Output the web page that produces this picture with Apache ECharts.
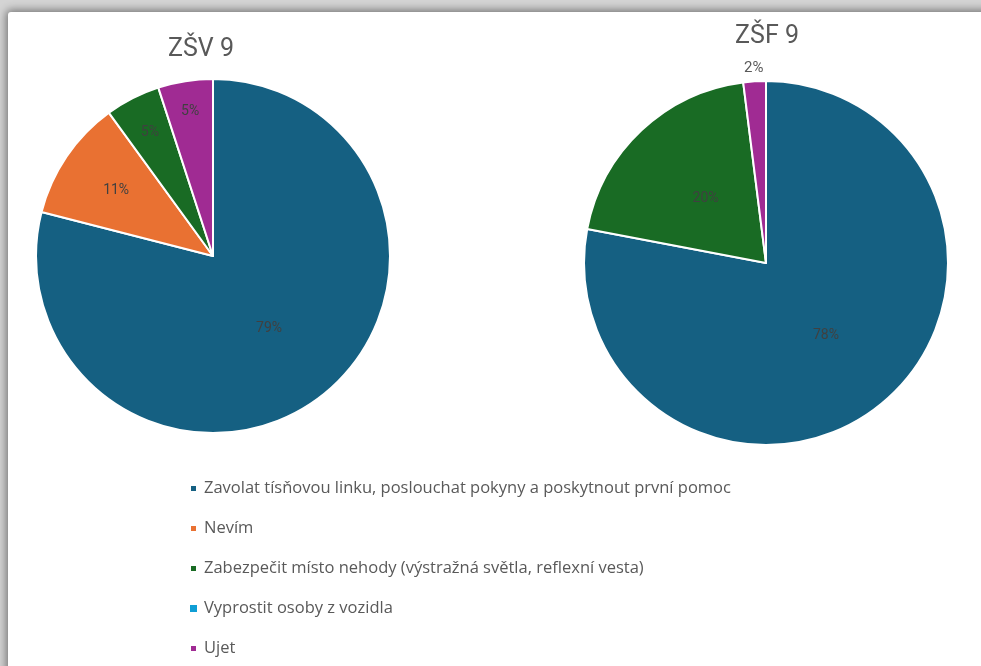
<!DOCTYPE html>
<html>
<head>
<meta charset="utf-8">
<script src="https://cdn.jsdelivr.net/npm/echarts@6/dist/echarts.min.js"></script>
<style>
  html, body { margin: 0; padding: 0; background: #d4d4d4; overflow: hidden; }
  #card { position: absolute; left: 8px; top: 12px; width: 990px; height: 680px; background: #fff;
          box-shadow: 0 0 9px 2px rgba(0,0,0,0.45); border-radius: 3px; }
  #main { position: absolute; left: 0; top: 0; width: 981px; height: 666px; }
</style>
</head>
<body>
<div id="card"></div>
<div id="main"></div>
<script>
var categories = [
  'Zavolat tísňovou linku, poslouchat pokyny a poskytnout první pomoc',
  'Nevím',
  'Zabezpečit místo nehody (výstražná světla, reflexní vesta)',
  'Vyprostit osoby z vozidla',
  'Ujet'
];
var zsvValues = [79, 11, 5, 0, 5];
var zsfValues = [78, 0, 20, 0, 2];
var titles = ['ZŠV 9', 'ZŠF 9'];

var colors = ['#156082', '#E97132', '#196B24', '#0F9ED5', '#A02B93'];
// how far out (fraction of radius) each label sits, like Excel's best fit
var zsvLabelPos = [0.5, 0.64, 0.76, 0.5, 0.8];
var zsfLabelPos = [0.5, 0.5, 0.47, 0.5, 1.037];

var pies = [
  { center: [213, 256], r: 177, values: zsvValues, labelPos: zsvLabelPos },
  { center: [766, 263], r: 182, values: zsfValues, labelPos: zsfLabelPos }
];

var myChart = echarts.init(document.getElementById('main'));

var series = pies.map(function (p, si) {
  return {
    type: 'pie',
    name: titles[si],
    center: p.center,
    radius: [0, p.r],
    startAngle: 90,
    clockwise: true,
    percentPrecision: 0,
    animation: false,
    itemStyle: { borderColor: '#fff', borderWidth: 2 },
    label: {
      show: true,
      position: 'inside',
      formatter: '{d}%',
      color: '#404040',
      fontSize: 14,
      fontFamily: 'Roboto'
    },
    labelLayout: function (params) {
      if (params.labelRect == null) return {};
      var lx = params.labelRect.x + params.labelRect.width / 2;
      var ly = params.labelRect.y + params.labelRect.height / 2;
      var f = p.labelPos[params.dataIndex] / 0.5 - 1;
      return { dx: (lx - p.center[0]) * f, dy: (ly - p.center[1]) * f };
    },
    emphasis: { disabled: true },
    data: categories.map(function (c, i) {
      var item = { name: c, value: p.values[i], itemStyle: { color: colors[i] } };
      if (p.values[i] === 0) {
        item.label = { show: false };
        item.itemStyle.borderWidth = 0;
      }
      if (p.labelPos[i] > 1) {
        item.label = { color: '#595959', fontSize: 15 };
      }
      return item;
    })
  };
});

var titleStyle = { fontSize: 25, fontWeight: 'normal', color: '#595959', fontFamily: 'Roboto' };

var option = {
  animation: false,
  color: colors,
  title: [
    { text: titles[0], left: 196, top: 32, textAlign: 'center', textStyle: titleStyle },
    { text: titles[1], left: 762, top: 19, textAlign: 'center', textStyle: titleStyle }
  ],
  legend: {
    orient: 'vertical',
    left: 184,
    top: 475,
    itemGap: 23,
    itemWidth: 7,
    itemHeight: 7,
    icon: 'rect',
    selectedMode: false,
    data: categories,
    textStyle: { fontSize: 16.5, color: '#595959', fontFamily: 'Open Sans', padding: [0, 0, 0, 2] }
  },
  series: series
};
myChart.setOption(option);
</script>
</body>
</html>
